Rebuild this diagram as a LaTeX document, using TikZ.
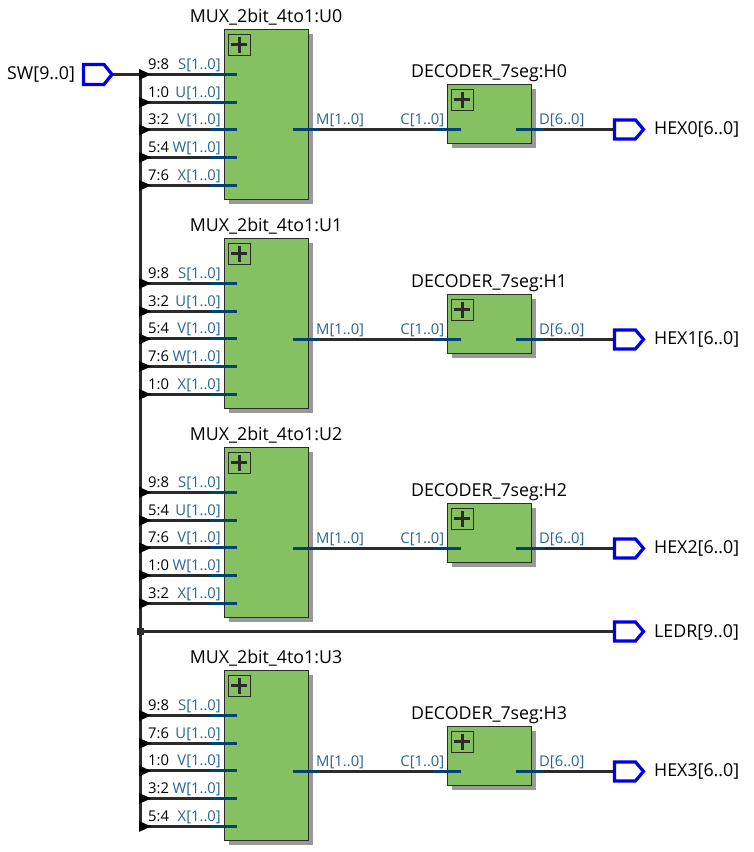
\documentclass[tikz,border=0pt]{standalone}
\usepackage{fontspec}
\setmainfont{Open Sans}
\usetikzlibrary{calc,shadows}
\definecolor{boxgreen}{HTML}{85C160}
\definecolor{shadowgrey}{HTML}{999999}
\definecolor{wiredark}{HTML}{2B2B2B}
\definecolor{portblue}{HTML}{004272}
\definecolor{porttext}{HTML}{2A6496}
\definecolor{pinblue}{HTML}{0000E6}
\tikzset{
  x=1pt,y=-1pt,
  block/.style={draw=wiredark,line width=1.2pt,fill=boxgreen,inner sep=0pt,anchor=north west,
    minimum width=84pt,drop shadow={shadow xshift=4.5pt,shadow yshift=-4.5pt,opacity=1,fill=shadowgrey}},
  muxblock/.style={block,minimum height=170pt},
  decblock/.style={block,minimum height=59.5pt},
  plusbox/.style={draw=wiredark,line width=1pt,inner sep=0pt,minimum width=21.5pt,minimum height=21.5pt,anchor=north west},
  wire/.style={draw=wiredark,line width=3pt},
  stub/.style={draw=portblue,line width=3pt},
  pinshape/.style={draw=pinblue,line width=3.2pt,miter limit=4},
  title/.style={font=\fontsize{17.8pt}{20pt}\selectfont,text=black,inner sep=0pt},
  bits/.style={font=\fontsize{14.8pt}{17pt}\selectfont,text=black,inner sep=0pt,anchor=base west},
  portname/.style={font=\fontsize{14.8pt}{17pt}\selectfont,text=porttext,inner sep=0pt},
  wedge/.style={fill=black,draw=none},
}
\newcommand{\plusmark}[1]{%
  \node[plusbox] (#1) at ($(#1anchor)$) {};
  \draw[wiredark,line width=2.8pt] ($(#1.center)+(-8,0)$) -- ($(#1.center)+(8,0)$);
  \draw[wiredark,line width=2.8pt] ($(#1.center)+(0,-8)$) -- ($(#1.center)+(0,8)$);
}
\newcommand{\outpin}[4]{% name, y, text, source coordinate
  \coordinate (#1) at (613.5,#2);
  \draw[wire] (#4) -- (#1);
  \draw[pinshape,fill=white] (614.5,#2-9.5) -- (635.5,#2-9.5) -- (643.5,#2) -- (635.5,#2+9.5) -- (614.5,#2+9.5) -- cycle;
  \node[title,anchor=base west] (#1text) at (654,#2+5.5) {#3};
}
\newcommand{\muxport}[6]{%
  \coordinate (#1w#2) at (140,#3+0.4);
  \coordinate (#1b#2) at (224,#3+0.4);
  \draw[wire] (#1w#2) -- (#1b#2);
  \fill[wedge] (139,#3-5.1) -- (151,#3+0.4) -- (139,#3+5.9) -- cycle;
  \node[bits] (#1bits#2) at (148,#3-5) {#4};
  \node[portname,anchor=base east] (#1port#2) at (221,#3-5) {#5[1..0]};
}
\newcommand{\muxstub}[2]{\draw[stub] (210,#2+0.4) -- (237,#2+0.4);}
\newcommand{\inst}[9]{%
  \node[muxblock] (mux#1) at (224,#2-0.5) {};
  \node[title,anchor=base] (mux#1title) at (266,#2-7) {MUX\_2bit\_4to1:#1};
  \coordinate (mux#1plusanchor) at (228,#2+4);
  \plusmark{mux#1plus}
  \muxport{#1}{1}{#2+44.5}{#3}{S}{}
  \muxport{#1}{2}{#2+72.5}{#4}{U}{}
  \muxport{#1}{3}{#2+100}{#5}{V}{}
  \muxport{#1}{4}{#2+127.5}{#6}{W}{}
  \muxport{#1}{5}{#2+155.5}{#7}{X}{}
  \muxstub{#1}{#2+44.5}\muxstub{#1}{#2+72.5}\muxstub{#1}{#2+100}\muxstub{#1}{#2+127.5}\muxstub{#1}{#2+155.5}
  \node[decblock] (dec#8) at (447,#9-45.5) {};
  \node[title,anchor=base] (dec#8title) at (489,#9-52) {DECODER\_7seg:#8};
  \coordinate (dec#8plusanchor) at (451,#9-40.5);
  \plusmark{dec#8plus}
  \coordinate (m#1) at (320,#9+0.4);
  \coordinate (c#8) at (433,#9+0.4);
  \coordinate (d#8) at (544,#9+0.4);
  \draw[wire] (m#1) -- (c#8);
  \draw[stub] (293,#9+0.4) -- (m#1);
  \draw[stub] (c#8) -- (461,#9+0.4);
  \draw[stub] (516,#9+0.4) -- (d#8);
  \node[portname,anchor=base west] (m#1label) at (316,#9-5) {M[1..0]};
  \node[portname,anchor=base east] (c#8label) at (444.5,#9-5) {C[1..0]};
  \node[portname,anchor=base west] (d#8label) at (539,#9-5) {D[6..0]};
  \outpin{out#8}{#9+0.4}{HEX\csname digit#8\endcsname[6..0]}{d#8}
}
\expandafter\def\csname digitH0\endcsname{0}
\expandafter\def\csname digitH1\endcsname{1}
\expandafter\def\csname digitH2\endcsname{2}
\expandafter\def\csname digitH3\endcsname{3}
\begin{document}
\begin{tikzpicture}
\useasboundingbox (0,0) rectangle (754,852);
\fill[white] (0,0) rectangle (754,852);
\coordinate (swout) at (112,74.4);
\coordinate (trunktop) at (140,74.4);
\coordinate (trunkbot) at (140,828);
\coordinate (junction) at (140,631.5);
\draw[wire] (swout) -- (trunktop);
\draw[wire] (trunktop) -- (trunkbot);
\draw[pinshape] (83.5,64.4) -- (104,64.4) -- (112,74.4) -- (104,84.4) -- (83.5,84.4) -- cycle;
\node[title,anchor=base west] (swtext) at (7,79.5) {SW[9..0]};
\inst{U0}{29.5}{9:8}{1:0}{3:2}{5:4}{7:6}{H0}{129}
\inst{U1}{238.5}{9:8}{3:2}{5:4}{7:6}{1:0}{H1}{339}
\inst{U2}{447.5}{9:8}{5:4}{7:6}{1:0}{3:2}{H2}{548}
\inst{U3}{670.5}{9:8}{7:6}{1:0}{3:2}{5:4}{H3}{771}
\outpin{outLEDR}{631.5}{LEDR[9..0]}{junction}
\fill[wiredark] (136.5,628) rectangle (143.5,635);
\end{tikzpicture}
\end{document}
